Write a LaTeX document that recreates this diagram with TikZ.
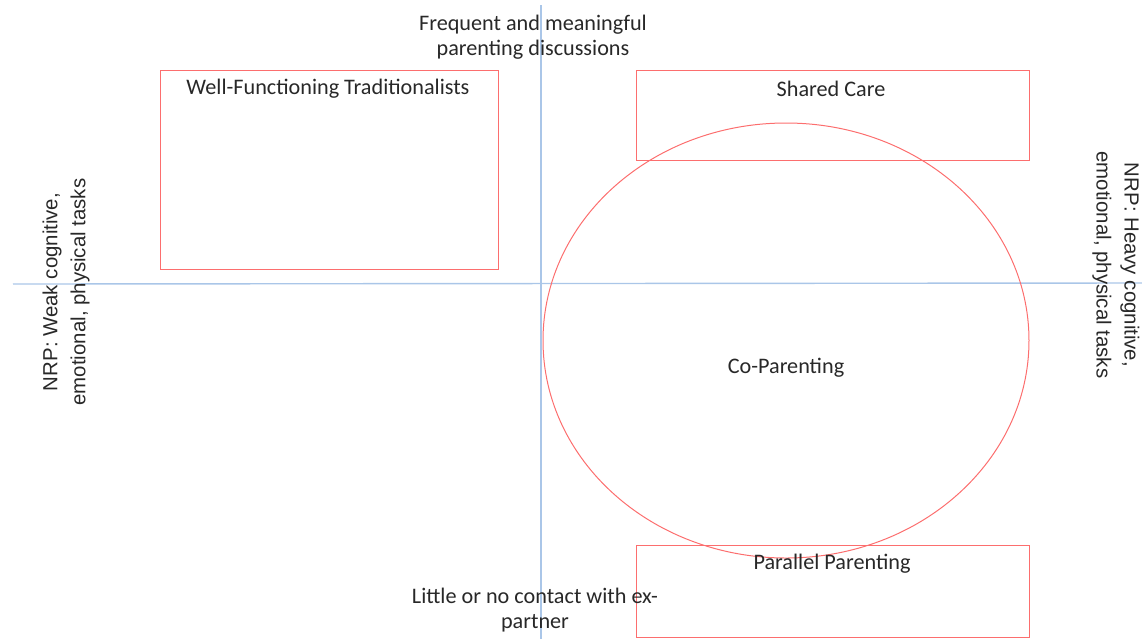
\documentclass[tikz,border=0pt]{standalone}
\usepackage{fontspec}
\setmainfont{Carlito}
\newfontfamily\axisfont{Liberation Sans}
\usetikzlibrary{shapes.geometric}

\definecolor{boxred}{RGB}{252,110,110}
\definecolor{axisblue}{RGB}{170,198,232}
\definecolor{textgray}{RGB}{40,40,40}

\tikzset{
  quadbox/.style = {rectangle, draw=boxred, line width=0.5pt,
    inner sep=0pt, outer sep=0pt},
  axisline/.style = {draw=axisblue, line width=0.7pt},
  lbl/.style = {text=textgray, inner sep=0pt, align=center,
    font=\fontsize{11.1}{12.5}\selectfont},
  sidelbl/.style = {text=textgray, inner sep=0pt, align=center,
    font=\axisfont\fontsize{10.2}{14}\selectfont}
}

\begin{document}
\begin{tikzpicture}[x=0.5pt, y=-0.5pt]
  %
  \useasboundingbox (0,0) rectangle (1142,639);

  % axes
  \coordinate (top)   at (541,5);
  \coordinate (bot)   at (541,639);
  \coordinate (left)  at (13,284);
  \coordinate (right) at (1142,283);
  \draw[axisline] (top) -- (bot);
  \draw[axisline] (left) -- (right);

  % quadrant boxes
  \node[quadbox, minimum width=169pt, minimum height=99.5pt] (wft)    at (329,169.5) {};
  \node[quadbox, minimum width=196.5pt, minimum height=45pt] (shared) at (832.5,115) {};
  \node[quadbox, minimum width=196.5pt, minimum height=46pt] (parallel) at (832.5,591) {};
  \node[ellipse, draw=boxred, line width=0.5pt, inner sep=0pt,
        minimum width=243pt, minimum height=217.5pt] (coparent) at (786,340.5) {};

  % labels
  \node[lbl] (wfttxt)      at (328,89)  {Well-Functioning Traditionalists};
  \node[lbl] (sharedtxt)   at (831,89)  {Shared Care};
  \node[lbl] (coparenttxt) at (786,368) {Co-Parenting};
  \node[lbl] (paralleltxt) at (832,564) {Parallel Parenting};

  \node[lbl] (toptxt) at (533,37)  {Frequent and meaningful\\parenting discussions};
  \node[lbl] (bottxt) at (535,610) {Little or no contact with ex-\\partner};

  \node[sidelbl, rotate=90]  (lefttxt)  at (66,292)   {NRP: Weak cognitive,\\emotional, physical tasks};
  \node[sidelbl, rotate=-90] (righttxt) at (1116,265) {NRP: Heavy cognitive,\\emotional, physical tasks};

\end{tikzpicture}
\end{document}
